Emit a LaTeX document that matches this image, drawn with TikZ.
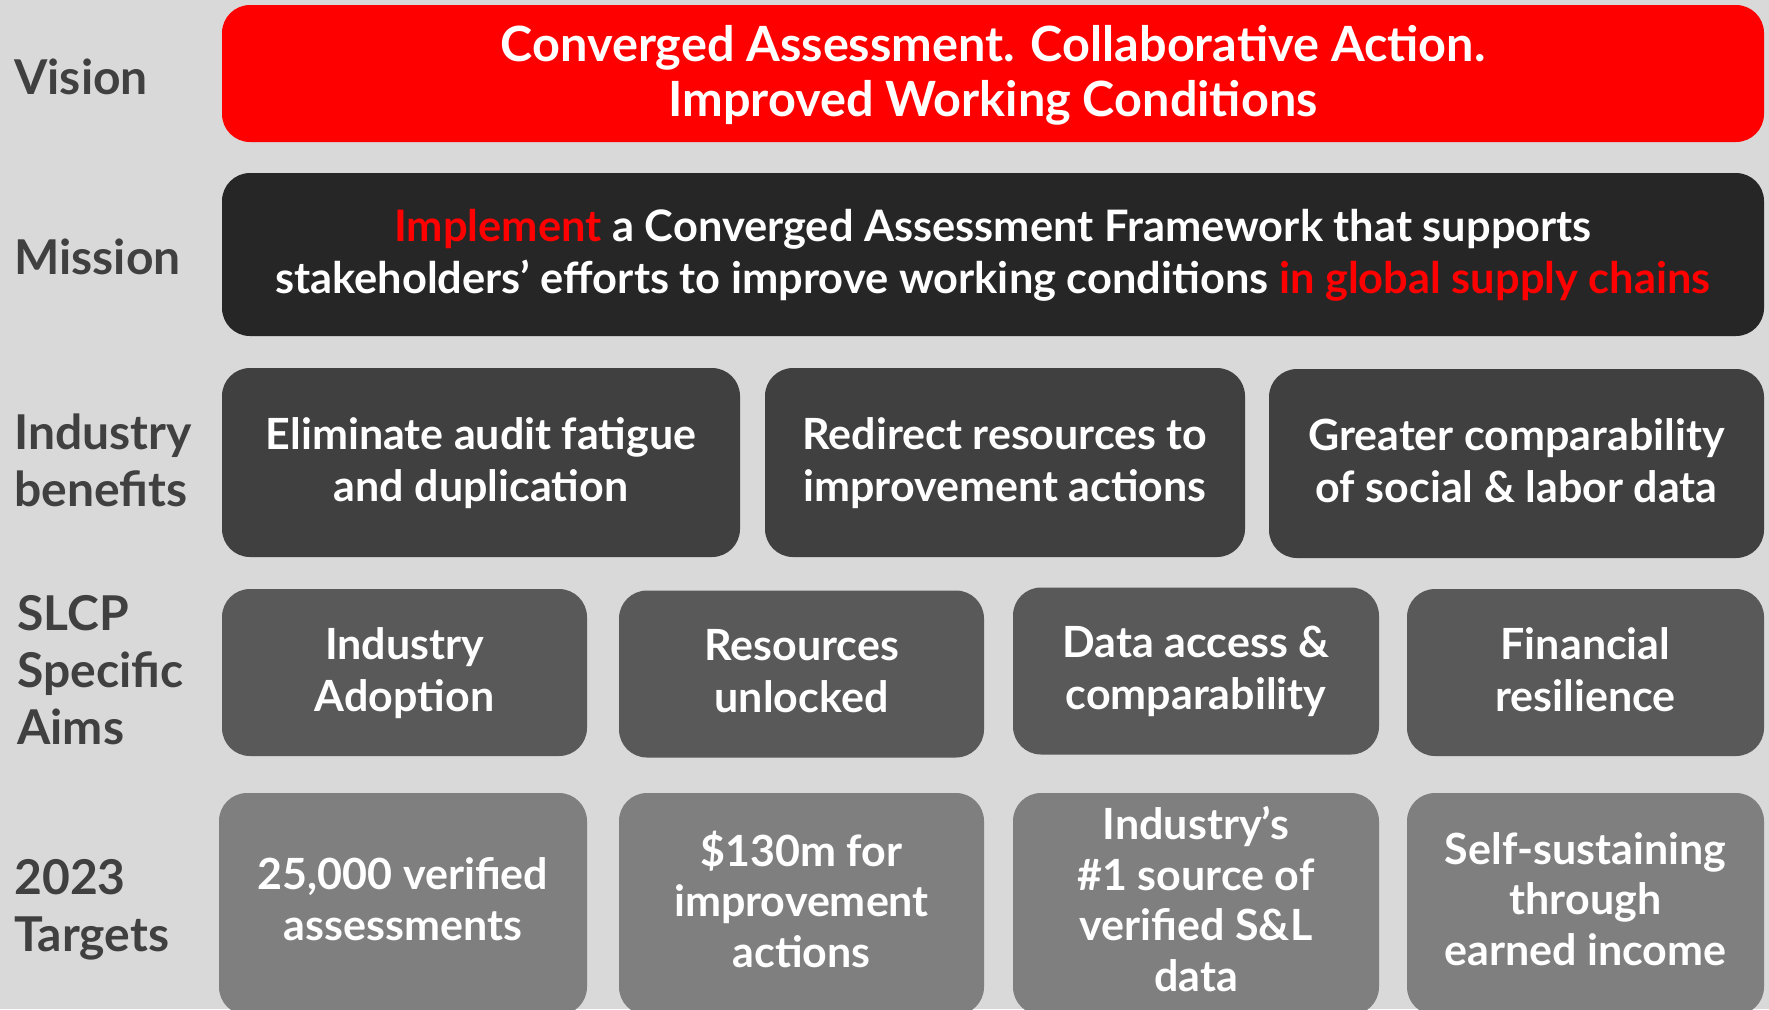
\documentclass[tikz,border=0pt]{standalone}
\usepackage{fontspec}
\setmainfont{Lato}
\usepackage{tikz}
\definecolor{pagegrey}{HTML}{D9D9D9}
\definecolor{visionred}{HTML}{FF0000}
\definecolor{missiongrey}{HTML}{262626}
\definecolor{benefitgrey}{HTML}{404040}
\definecolor{aimgrey}{HTML}{595959}
\definecolor{targetgrey}{HTML}{7F7F7F}
\definecolor{labelgrey}{HTML}{404040}
\tikzset{
  rowbox/.style={rounded corners=14pt, inner sep=0pt, align=center, text=white,
    text depth=3pt, font=\bfseries\fontsize{21.5}{26}\selectfont},
  visionbox/.style={rowbox, fill=visionred, minimum width=771pt, minimum height=68.5pt,
    font=\bfseries\fontsize{24.3}{27.5}\selectfont},
  missionbox/.style={rowbox, fill=missiongrey, minimum width=771pt, minimum height=81.5pt,
    font=\bfseries\fontsize{21.7}{26}\selectfont},
  benefitbox/.style={rowbox, fill=benefitgrey, minimum height=94.5pt},
  aimbox/.style={rowbox, fill=aimgrey, minimum height=83.5pt},
  targetbox/.style={rowbox, fill=targetgrey, minimum height=111pt, text depth=5pt,
    font=\bfseries\fontsize{21.5}{25.3}\selectfont},
  rowlabel/.style={anchor=west, inner sep=0pt, align=left, text=labelgrey,
    font=\bfseries\fontsize{24}{28.5}\selectfont}
}

\begin{document}
\begin{tikzpicture}[x=0.5pt, y=-0.5pt]
			%%%%% START %%%%%
			
			\fill[pagegrey] (0, 0) rectangle (1769, 1009);
			\useasboundingbox (0, 0) rectangle (1769, 1009);
			
			% row labels
			\node[rowlabel] (lvision) at (14, 77) {Vision};
			\node[rowlabel] (lmission) at (14, 257) {Mission};
			\node[rowlabel] (lbenefits) at (14, 460) {Industry\\benefits};
			\node[rowlabel] (laims) at (17, 670) {SLCP\\Specific\\Aims};
			\node[rowlabel] (ltargets) at (14, 909.5) {2023\\Targets};
			
			% vision and mission
			\node[visionbox] (vision) at (993, 73.5) {Converged Assessment. Collaborative Action.\\Improved Working Conditions};
			\node[missionbox] (mission) at (993, 254.5) {\textcolor{visionred}{Implement} a Converged Assessment Framework that supports\\stakeholders’ efforts to improve working conditions \textcolor{visionred}{in global supply chains}};
			
			% industry benefits
			\node[benefitbox, minimum width=259pt] (ben1) at (481, 462.5) {Eliminate audit fatigue\\and duplication};
			\node[benefitbox, minimum width=240pt] (ben2) at (1005, 462.5) {Redirect resources to\\improvement actions};
			\node[benefitbox, minimum width=247.5pt] (ben3) at (1516.5, 463.5) {Greater comparability\\of social \& labor data};
			
			% specific aims
			\node[aimbox, minimum width=182.5pt] (aim1) at (404.5, 672.5) {Industry\\Adoption};
			\node[aimbox, minimum width=182.5pt] (aim2) at (801.5, 674) {Resources\\unlocked};
			\node[aimbox, minimum width=183pt] (aim3) at (1196, 671) {Data access \&\\comparability};
			\node[aimbox, minimum width=178.5pt] (aim4) at (1585.5, 672.5) {Financial\\resilience};
			
			% 2023 targets
			\node[targetbox, minimum width=184pt] (tgt1) at (403, 904) {25,000 verified\\assessments};
			\node[targetbox, minimum width=182.5pt] (tgt2) at (801.5, 904) {\$130m for\\improvement\\actions};
			\node[targetbox, minimum width=183pt] (tgt3) at (1196, 904) {Industry’s\\\#1 source of\\verified S\&L\\data};
			\node[targetbox, minimum width=178.5pt] (tgt4) at (1585.5, 904) {Self-sustaining\\through\\earned income};
			
			%%%%% END %%%%%
\end{tikzpicture}
\end{document}
